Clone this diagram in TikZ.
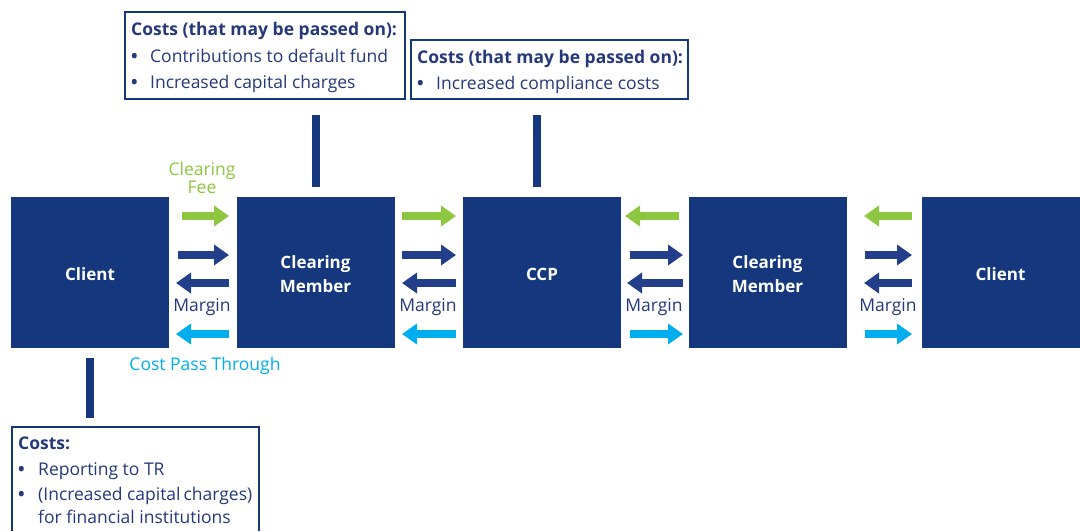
\documentclass[tikz,border=0pt]{standalone}
\usepackage{fontspec}
\setmainfont{Open Sans}
\usetikzlibrary{arrows.meta}
\definecolor{boxnavy}{HTML}{14377D}
\definecolor{txtnavy}{HTML}{24387A}
\definecolor{arrnavy}{HTML}{233F8C}
\definecolor{feegreen}{HTML}{8DC63F}
\definecolor{passcyan}{HTML}{00AEEF}
\newcommand{\bul}[1]{\makebox[#1][l]{\bfseries •}}
\newcommand{\partytext}[1]{\raisebox{-3pt}[\height][\depth]{\begin{tabular}{@{}c@{}}#1\end{tabular}}}
\begin{document}
\begin{tikzpicture}[x=1pt,y=-1pt,
  party/.style={fill=boxnavy, draw=none, minimum width=158pt, minimum height=151pt,
    text=white, font=\fontsize{17}{24}\selectfont\bfseries, align=center, inner sep=0pt},
  costbox/.style={draw=boxnavy, line width=1.3pt, fill=none, inner sep=0pt},
  txt/.style={text=txtnavy, font=\fontsize{17.5}{26}\selectfont, inner sep=0pt},
  bar/.style={draw=boxnavy, line width=8pt},
  flow/.style={line width=8pt, -{Triangle[length=15pt,width=20pt]}},
  ga/.style={flow, draw=feegreen},
  na/.style={flow, draw=arrnavy},
  ca/.style={flow, draw=passcyan},
  lbl/.style={font=\fontsize{17.5}{19}\selectfont, inner sep=0pt, align=center}
]
\useasboundingbox (0,0) rectangle (1080,531);

% parties
\node[party] (client1) at (90,272.5) {\partytext{Client}};
\node[party] (cm1) at (315.5,272.5) {\partytext{Clearing\\Member}};
\node[party] (ccp) at (542,272.5) {\partytext{CCP}};
\node[party] (cm2) at (767.5,272.5) {\partytext{Clearing\\Member}};
\node[party] (client2) at (1000.5,272.5) {\partytext{Client}};

% cost boxes
\node[costbox, minimum width=280pt, minimum height=87pt] (box1) at (265,55.5) {};
\node[costbox, minimum width=277pt, minimum height=59pt] (box2) at (549.5,69.5) {};
\coordinate (b3a) at (12,531);
\coordinate (b3b) at (259,427);
\draw[draw=boxnavy, line width=1.3pt] (b3a) |- (b3b) -- (b3b |- b3a);

% box texts
\node[txt, anchor=base west] (h1) at (131,35) {\bfseries Costs (that may be passed on):};
\node[txt, anchor=base west] (t11) at (131,62) {\bul{19pt}Contributions to default fund};
\node[txt, anchor=base west] (t12) at (131,88) {\bul{19pt}Increased capital charges};
\node[txt, anchor=base west] (h2) at (417,63) {\bfseries Costs (that may be passed on):};
\node[txt, anchor=base west] (t21) at (417,89) {\bul{19pt}Increased compliance costs};
\node[txt, anchor=base west] (h3) at (18,449) {\bfseries Costs:};
\node[txt, anchor=base west] (t31) at (18,475) {\bul{20pt}Reporting to TR};
\node[txt, anchor=base west] (t32) at (18,500) {\bul{20pt}(Increased capital\,charges)};
\node[txt, anchor=base west] (t33) at (38,523) {for financial institutions};

% bars
\coordinate (v1a) at (316,115); \coordinate (v1b) at (316,187);
\coordinate (v2a) at (537,115); \coordinate (v2b) at (537,187);
\coordinate (v3a) at (90,358);  \coordinate (v3b) at (90,418);
\draw[bar] (v1a) -- (v1b);
\draw[bar] (v2a) -- (v2b);
\draw[bar] (v3a) -- (v3b);

% arrows gap 1
\draw[ga] (182,216) -- (229,216);
\draw[na] (178,255) -- (229,255);
\draw[na] (229,283) -- (176,283);
\draw[ca] (229,334) -- (176,334);
% gap 2
\draw[ga] (402,216) -- (456,216);
\draw[na] (402,255) -- (456,255);
\draw[na] (456,283) -- (402,283);
\draw[ca] (456,334) -- (402,334);
% gap 3
\draw[ga] (679,216) -- (625,216);
\draw[na] (630,255) -- (683,255);
\draw[na] (683,283) -- (627,283);
\draw[ca] (630,334) -- (683,334);
% gap 4
\draw[ga] (912,216) -- (864,216);
\draw[na] (865,255) -- (912,255);
\draw[na] (912,283) -- (864,283);
\draw[ca] (865,334) -- (912,334);

% labels
\node[lbl, text=feegreen] (fee) at (202,178) {Clearing\\[-1pt]Fee};
\node[lbl, text=txtnavy] (m1) at (202,307) {Margin};
\node[lbl, text=txtnavy] (m2) at (428,307) {Margin};
\node[lbl, text=txtnavy] (m3) at (654,307) {Margin};
\node[lbl, text=txtnavy] (m4) at (888,307) {Margin};
\node[lbl, text=passcyan] (cpt) at (205,366) {Cost Pass Through};
\end{tikzpicture}
\end{document}
